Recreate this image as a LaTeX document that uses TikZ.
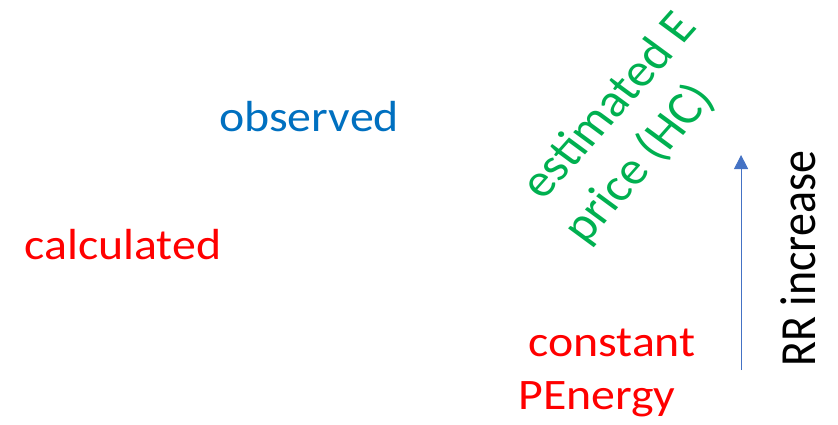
\documentclass[tikz,border=0pt]{standalone}
\usepackage{fontspec}
\setmainfont{Carlito}
\usetikzlibrary{arrows.meta}
\definecolor{obsblue}{HTML}{0070C0}
\definecolor{calcred}{HTML}{FF0000}
\definecolor{estgreen}{HTML}{00B050}
\definecolor{arrblue}{HTML}{4472C4}
\tikzset{
  lbl/.style={inner sep=0pt, anchor=base west, font=\fontsize{43.5pt}{52pt}\selectfont},
  biglbl/.style={inner sep=0pt, anchor=base west, font=\fontsize{46pt}{54pt}\selectfont},
  rotlbl/.style={inner sep=0pt, align=left, font=\fontsize{47pt}{57pt}\selectfont},
  rrarrow/.style={draw=arrblue, line width=1pt, -{Triangle[width=14pt,length=14pt]}}
}
\begin{document}
\begin{tikzpicture}[x=1pt,y=1pt]
\useasboundingbox (0,0) rectangle (838,424);
\begin{scope}[xscale=1.1, transform shape]
\node[lbl, text=obsblue] (obs) at (199,293) {observed};
\node[lbl, text=calcred] (calc) at (22,165) {calculated};
\node[lbl, text=calcred] (const) at (480,67.3) {constant};
\node[lbl, text=calcred] (pen) at (471,14.7) {PEnergy};
\node[rotlbl, text=estgreen, rotate=51] (est) at (577,299) {estimated E\\\hspace*{-10pt}price (HC)};
\node[biglbl, text=black, rotate=90] (rr) at (740.9,57) {RR increase};
\coordinate (arrS) at (673.6,54);
\coordinate (arrE) at (673.6,269);
\draw[rrarrow] (arrS) -- (arrE);
\end{scope}
\end{tikzpicture}
\end{document}
